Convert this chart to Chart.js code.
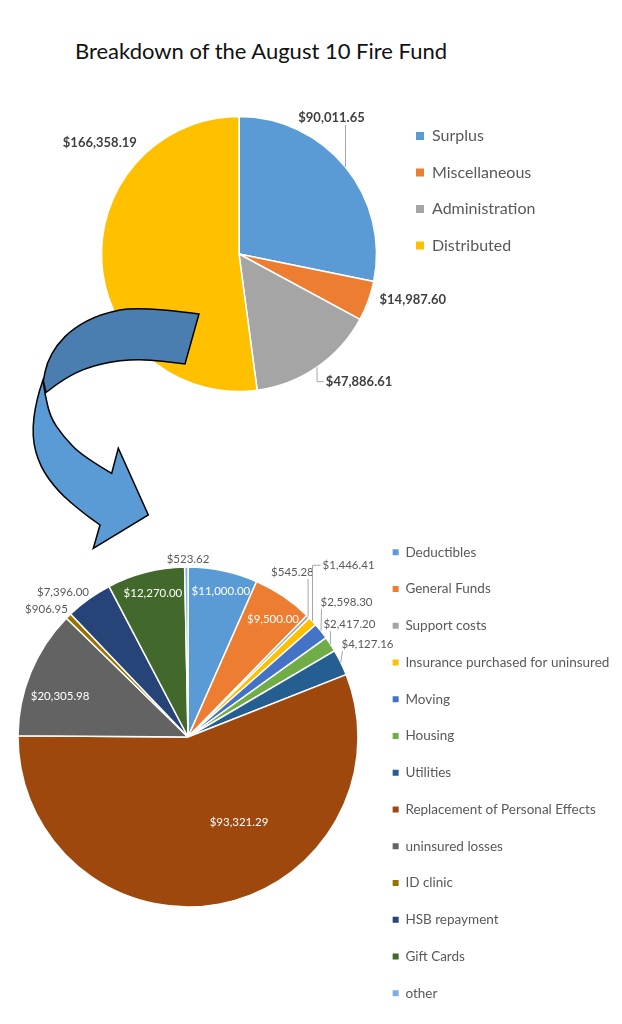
<!DOCTYPE html>
<html>
<head>
<meta charset="utf-8">
<title>Breakdown of the August 10 Fire Fund</title>
<script src="https://cdn.jsdelivr.net/npm/chart.js@4.4.1/dist/chart.umd.min.js"></script>
<style>
    html, body { margin: 0; padding: 0; background: #ffffff; }
    .page { position: relative; width: 622px; height: 1024px; overflow: hidden; }
    .page h1 {
        position: absolute; left: 0; top: 40px; width: 522px; margin: 0;
        font: 400 22px/1 Lato, sans-serif; color: #111111; text-align: center;
    }
    .page canvas { position: absolute; left: 0; }
    #fundChart { top: 100px; }
    #spentChart { top: 440px; }
    #arrow { top: 0; z-index: 2; pointer-events: none; }
</style>
</head>
<body>
<div class="page">
    <h1>Breakdown of the August 10 Fire Fund</h1>
    <canvas id="fundChart" width="622" height="320"></canvas>
    <canvas id="spentChart" width="622" height="584"></canvas>
    <canvas id="arrow" width="622" height="1024"></canvas>
</div>
<script>
/* ================= DATA ================= */
const fundLabels = ['Surplus', 'Miscellaneous', 'Administration', 'Distributed'];
const fundValues = [90011.65, 14987.60, 47886.61, 166358.19];
const fundColors = ['#5B9BD5', '#ED7D31', '#A5A5A5', '#FFC000'];

const spentLabels = [
    'Deductibles', 'General Funds', 'Support costs', 'Insurance purchased for uninsured',
    'Moving', 'Housing', 'Utilities', 'Replacement of Personal Effects',
    'uninsured losses', 'ID clinic', 'HSB repayment', 'Gift Cards', 'other'
];
const spentValues = [
    11000.00, 9500.00, 545.28, 1446.41,
    2598.30, 2417.20, 4127.16, 93321.29,
    20305.98, 906.95, 7396.00, 12270.00, 523.62
];
const spentColors = [
    '#5B9BD5', '#ED7D31', '#A5A5A5', '#FFC000',
    '#4472C4', '#70AD47', '#255E91', '#9E480E',
    '#636363', '#997300', '#264478', '#43682B', '#7CAFDD'
];

/* ================= LABEL PLACEMENT (like Excel's best fit) ================= */
// r < 1 : inside the slice, at r * radius along the mid angle (da = degrees nudge)
// r = 1 : outside, offset dx/dy from the rim point, optional leader line
const fundSpots = [
    { dx: -14, dy: -49, leader: 'v' },
    { dx: 44.5, dy: -1 },
    { dx: 42, dy: 14.5, leader: 'elbow' },
    { dx: -2, dy: -120 }
];
const spentSpots = [
    { r: 0.88, da: 0.8 },
    { r: 0.855, da: 1.7 },
    { dx: -15.7, dy: -44.7, leader: 'v' },
    { dx: 36, dy: -56, leader: 'elbow' },
    { dx: 25.5, dy: -29, leader: 'corner' },
    { dx: 19, dy: -20, leader: 'v' },
    { dx: 26.7, dy: -18.5, leader: 'corner' },
    { r: 0.583, da: -20.4 },
    { r: 0.79, da: -4.6 },
    { dx: -22, dy: -7 },
    { dx: -25.8, dy: -7 },
    { r: 0.87, da: 0.7 },
    { dx: 1.7, dy: -8 }
];

const FONT = 'Lato, sans-serif';
Chart.defaults.font.family = FONT;
Chart.defaults.animation = false;

const money = v => '$' + v.toLocaleString('en-US', { minimumFractionDigits: 2, maximumFractionDigits: 2 });

/* ================= LEGEND WIDTH (so the pie lands where Excel put it) ================= */
const measureCtx = document.createElement('canvas').getContext('2d');
function legendWidth(labels, size, box, pad) {
    measureCtx.font = size + 'px ' + FONT;
    const widest = Math.max(...labels.map(t => measureCtx.measureText(t).width));
    return pad + box + size / 2 + widest + 10;
}

/* ================= VALUE LABELS PLUGIN ================= */
const sliceLabels = {
    id: 'sliceLabels',
    afterDatasetsDraw(chart, args, opts) {
        const { ctx } = chart;
        const values = chart.data.datasets[0].data;
        ctx.save();
        ctx.font = opts.font;
        ctx.textAlign = 'center';
        ctx.textBaseline = 'middle';
        chart.getDatasetMeta(0).data.forEach((arc, i) => {
            const spot = opts.spots[i];
            const { x, y, startAngle, endAngle, outerRadius } =
                arc.getProps(['x', 'y', 'startAngle', 'endAngle', 'outerRadius'], true);
            const mid = (startAngle + endAngle) / 2 + (spot.da || 0) * Math.PI / 180;
            const r = outerRadius * (spot.r || 1);
            const ax = x + Math.cos(mid) * r;
            const ay = y + Math.sin(mid) * r;
            const lx = ax + (spot.dx || 0);
            const ly = ay + (spot.dy || 0);
            const text = money(values[i]);
            const w = ctx.measureText(text).width;

            if (spot.leader) {
                ctx.strokeStyle = '#A6A6A6';
                ctx.lineWidth = 1;
                ctx.beginPath();
                ctx.moveTo(ax, ay);
                if (spot.leader === 'v') {
                    ctx.lineTo(ax, ly + (ly < ay ? 7 : -7));
                } else if (spot.leader === 'elbow') {
                    ctx.lineTo(ax, ly);
                    ctx.lineTo(lx - w / 2 - 2, ly);
                } else {
                    ctx.lineTo(lx - w / 2 + 1, ly + 7);
                }
                ctx.stroke();
            }

            ctx.fillStyle = (spot.r && spot.r < 1) ? opts.insideColor : opts.color;
            ctx.fillText(text, lx, ly);
        });
        ctx.restore();
    }
};

// legend boxes without the white slice border
const plainLegendItems = chart =>
    Chart.overrides.pie.plugins.legend.labels.generateLabels(chart)
        .map(item => Object.assign(item, { lineWidth: 0 }));

/* ================= TOP PIE: WHOLE FUND ================= */
const fundLegend = { size: 16, box: 8, pad: 20.5, left: 395.5 };
new Chart(document.getElementById('fundChart'), {
    type: 'pie',
    data: {
        labels: fundLabels,
        datasets: [{
            data: fundValues,
            backgroundColor: fundColors,
            borderColor: '#ffffff',
            borderWidth: 1.5,
            radius: 137.5
        }]
    },
    options: {
        responsive: false,
        layout: {
            padding: {
                left: 82.5,
                right: 622 - fundLegend.left - legendWidth(fundLabels, fundLegend.size, fundLegend.box, fundLegend.pad),
                top: 7.5,
                bottom: 19.5
            }
        },
        plugins: {
            legend: {
                position: 'right',
                align: 'start',
                labels: {
                    boxWidth: fundLegend.box,
                    boxHeight: fundLegend.box,
                    padding: fundLegend.pad,
                    color: '#595959',
                    font: { size: fundLegend.size },
                    generateLabels: plainLegendItems
                }
            },
            tooltip: { enabled: false },
            sliceLabels: {
                spots: fundSpots,
                font: 'bold 13px ' + FONT,
                color: '#404040',
                insideColor: '#ffffff'
            }
        }
    },
    plugins: [sliceLabels]
});

/* ================= BOTTOM PIE: DISTRIBUTED FUNDS ================= */
const spentLegend = { size: 13.5, box: 6, pad: 23.25, left: 369.4 };
new Chart(document.getElementById('spentChart'), {
    type: 'pie',
    data: {
        labels: spentLabels,
        datasets: [{
            data: spentValues,
            backgroundColor: spentColors,
            borderColor: '#ffffff',
            borderWidth: 1.5,
            radius: 170
        }]
    },
    options: {
        responsive: false,
        layout: {
            padding: {
                left: 6.6,
                right: 622 - spentLegend.left - legendWidth(spentLabels, spentLegend.size, spentLegend.box, spentLegend.pad),
                top: 10.7,
                bottom: 0.7
            }
        },
        plugins: {
            legend: {
                position: 'right',
                align: 'end',
                labels: {
                    boxWidth: spentLegend.box,
                    boxHeight: spentLegend.box,
                    padding: spentLegend.pad,
                    color: '#595959',
                    font: { size: spentLegend.size },
                    generateLabels: plainLegendItems
                }
            },
            tooltip: { enabled: false },
            sliceLabels: {
                spots: spentSpots,
                font: '11.5px ' + FONT,
                color: '#595959',
                insideColor: '#ffffff'
            }
        }
    },
    plugins: [sliceLabels]
});

/* ================= CURVED ARROW (decoration) ================= */
function smoothShape(ctx, pts, startNew) {
    if (startNew) ctx.moveTo(pts[0][0], pts[0][1]);
    else ctx.lineTo(pts[0][0], pts[0][1]);
    for (let i = 1; i < pts.length - 1; i++) {
        const mx = (pts[i][0] + pts[i + 1][0]) / 2;
        const my = (pts[i][1] + pts[i + 1][1]) / 2;
        ctx.quadraticCurveTo(pts[i][0], pts[i][1], mx, my);
    }
    const last = pts[pts.length - 1];
    ctx.lineTo(last[0], last[1]);
}

const actx = document.getElementById('arrow').getContext('2d');
actx.lineWidth = 1.5;
actx.strokeStyle = '#000000';
actx.lineJoin = 'miter';

// lower band with the arrow head
actx.beginPath();
smoothShape(actx, [[43, 380], [36, 400], [31.7, 436.7], [40, 466.7], [58.3, 491.7], [81.7, 511.7], [100, 525]], true);
actx.lineTo(93.3, 548.3);
actx.lineTo(148.3, 515);
actx.lineTo(118.3, 448.3);
smoothShape(actx, [[111.7, 473.3], [83.3, 456.7], [63.3, 436.7], [50, 416.7], [45, 393.3]]);
actx.closePath();
actx.fillStyle = '#5B9BD5';
actx.fill();
actx.stroke();

// upper band
actx.beginPath();
smoothShape(actx, [[199, 314], [140, 306], [100, 314], [73.3, 328.3], [56.7, 345], [46.7, 363.3], [43.3, 381]], true);
smoothShape(actx, [[46, 392.5], [66.7, 376], [100, 363.3], [140, 358.3], [185, 364]]);
actx.closePath();
actx.fillStyle = '#4A7EB0';
actx.fill();
actx.stroke();
</script>
</body>
</html>
